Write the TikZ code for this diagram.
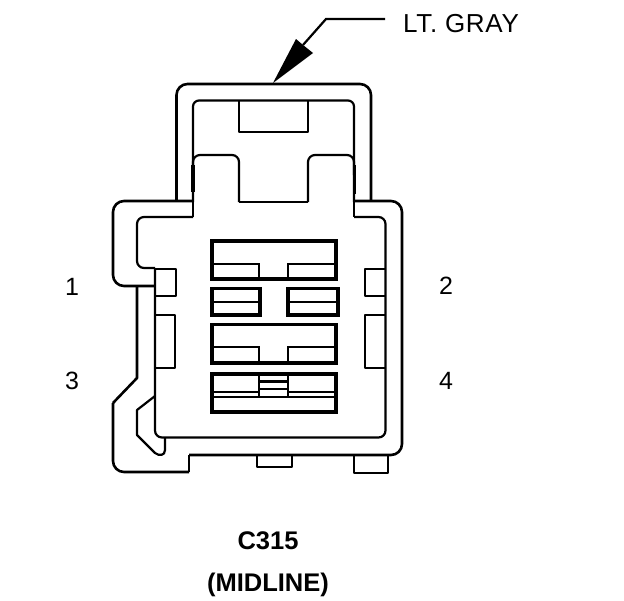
\documentclass[tikz,border=0pt]{standalone}
\usepackage{fontspec}
\setmainfont{Liberation Sans}
\tikzset{
  shell/.style={draw=black,line width=2.6pt,line join=round,fill=none},
  thin shell/.style={draw=black,line width=2.2pt,line join=round},
  heavy/.style={draw=black,line width=3.4pt,line join=miter},
  medium/.style={draw=black,line width=2.2pt,line join=miter},
  label/.style={inner sep=0pt,font=\fontsize{25}{29}\selectfont},
  caption/.style={inner sep=0pt,font=\fontsize{25.5}{29}\selectfont\bfseries}
}
\begin{document}
\begin{tikzpicture}[x=1pt,y=-1pt]
\useasboundingbox (0,0) rectangle (624,600);
\fill[white] (0,0) rectangle (624,600);
% hood
\draw[shell,rounded corners=11pt] (176.5,201) -- (176.5,84) -- (371,84) -- (371,201);
\draw[thin shell,rounded corners=6pt] (193,202) -- (193,100.5) -- (354,100.5) -- (354,202);
\draw[thin shell] (239,100.5) -- (239,132) -- (308,132) -- (308,100.5);
% tabs
\draw[thin shell,rounded corners=7pt] (193,175) -- (193,155) -- (239,155) -- (239,202);
\draw[shell] (239,202) -- (308,202);
\draw[thin shell,rounded corners=7pt] (308,202) -- (308,155) -- (354,155) -- (354,175);
\draw[heavy] (192.8,165) -- (192.8,192);
\draw[heavy] (354.2,165) -- (354.2,194);
% body outer
\draw[shell,rounded corners=11pt] (193,201) -- (113,201) -- (113,286) -- (155,286);
\draw[thin shell] (193,202) -- (193,217);
\draw[thin shell,rounded corners=7pt] (193,217) -- (137,217) -- (137,268) -- (155,268);
\draw[thin shell] (354,202) -- (354,217);
\draw[thin shell,rounded corners=7pt] (354,217) -- (385.5,217) -- (385.5,437.5) -- (155,437.5) -- (155,268);
\draw[shell,rounded corners=11pt] (354,201) -- (402,201) -- (402,455) -- (189,455);
\draw[shell] (189,455) -- (189,472);
\draw[shell,rounded corners=11pt] (189,472) -- (113,472) -- (113,403);
\draw[shell] (113,403) -- (137,378) -- (137,286);
% hook
\draw[thin shell] (155,396) -- (137,410) -- (137,435) -- (155,453) .. controls (159,456) and (165,456) .. (165,450) -- (165,438);
% bottom tabs
\draw[thin shell] (257,455) -- (257,467) -- (292,467) -- (292,455);
\draw[thin shell] (354,455) -- (354,473) -- (388,473) -- (388,455);
% side pins
\draw[shell] (155,269) -- (176,269) -- (176,296) -- (155,296);
\draw[shell] (155,315) -- (175,315) -- (175,368) -- (155,368);
\draw[shell] (385,269) -- (365,269) -- (365,296) -- (385,296);
\draw[shell] (385,315) -- (365,315) -- (365,368) -- (385,368);
% centre blocks
\draw[heavy] (212,241) rectangle (336,279);
\draw[medium] (212,264) -- (259,264) -- (259,279);
\draw[medium] (288,279) -- (288,264) -- (336,264);
\draw[heavy] (212,288.5) rectangle (260,315);
\draw[medium] (212,302) -- (260,302);
\draw[heavy] (288,288.5) rectangle (338,315);
\draw[medium] (288,302) -- (338,302);
\draw[heavy] (212,324.5) rectangle (336,363);
\draw[medium] (212,347) -- (259,347) -- (259,363);
\draw[medium] (288,363) -- (288,347) -- (336,347);
\draw[heavy] (212,374) rectangle (336,412);
\draw[medium] (212,392) -- (259,392);
\draw[medium] (288,392) -- (336,392);
\draw[medium] (212,397) -- (336,397);
\draw[medium] (259,374) -- (259,397);
\draw[medium] (288,374) -- (288,397);
\draw[medium] (259,381.5) -- (288,381.5);
\draw[medium] (259,389) -- (288,389);
% leader
\coordinate (leaderstart) at (385,19);
\coordinate (leaderbend) at (326,19);
\coordinate (leadernotch) at (303,45);
\coordinate (leadertip) at (273,83);
\draw[black,line width=2.2pt] (leaderstart) -- (leaderbend) -- (leadernotch);
\fill[black] (leadertip) -- (296,39) -- (leadernotch) -- (313,53) -- cycle;
% labels
\node[label,anchor=west,font=\fontsize{26}{30}\selectfont] (ltgray) at (403,23.5) {\addfontfeature{LetterSpace=2.5}LT. GRAY};
\node[label] (pinone) at (72,287) {1};
\node[label] (pintwo) at (446,286) {2};
\node[label] (pinthree) at (72,381) {3};
\node[label] (pinfour) at (446,381) {4};
\node[caption] (conn) at (268,541) {C315};
\node[caption] (loc) at (268,585) {(MIDLINE)};
\end{tikzpicture}
\end{document}
